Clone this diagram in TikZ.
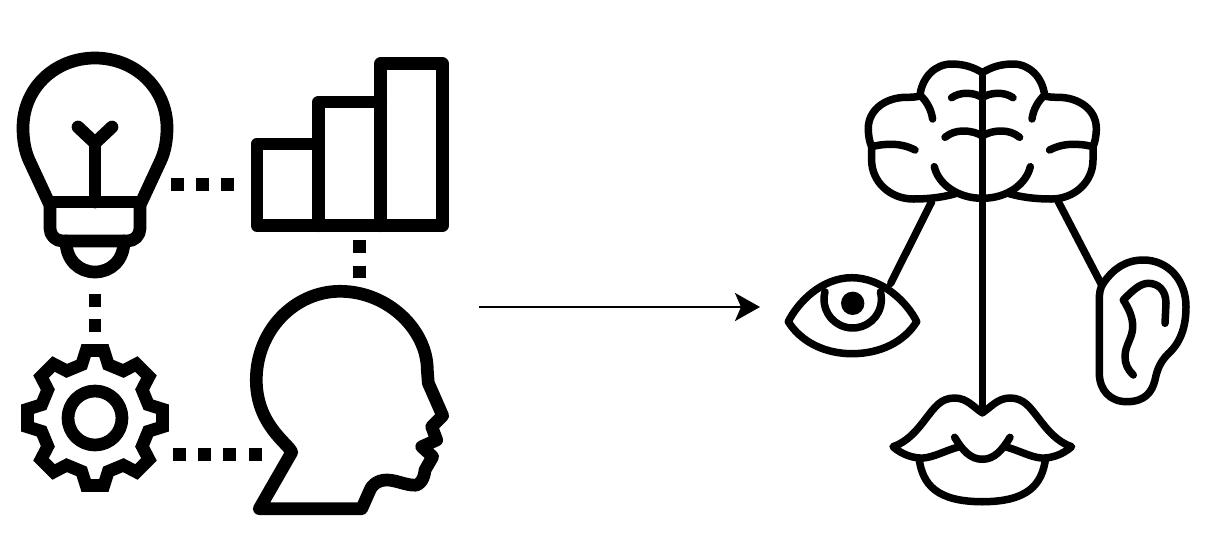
\documentclass[tikz,border=0pt]{standalone}
\usepackage{tikz}
\usetikzlibrary{arrows.meta}
\tikzset{
  >={Stealth[length=0.5cm, width=0.56cm, inset=0.12cm]},
  heavyline/.style={draw=black, line width=0.254cm, line join=round, line cap=round},
  lightline/.style={draw=black, line width=0.15cm, line join=round, line cap=round},
  dotlink/.style={draw=black, line width=0.26cm, dash pattern=on 0.26cm off 0.245cm},
  flowarrow/.style={->, draw=black, line width=0.054cm}
}

\begin{document}
\begin{tikzpicture}[x=0.02cm, y=-0.02cm]
\useasboundingbox (0,0) rectangle (1207,555);

% Link ends
\coordinate (bulbright) at (171,184);
\coordinate (chartleft) at (236,184);
\coordinate (chartbottom) at (359.3,240.3);
\coordinate (headtop) at (359.3,278);
\coordinate (bulbbottom) at (95,294);
\coordinate (geartop) at (95,333);
\coordinate (gearright) at (173,454.7);
\coordinate (headleft) at (262,454.7);
\coordinate (flowstart) at (479,307);
\coordinate (flowend) at (760,307);
\coordinate (brainleft) at (931.7,201.7);
\coordinate (eyetop) at (890.7,283.3);
\coordinate (brainright) at (1058.3,201.7);
\coordinate (eartop) at (1101.7,285);
\coordinate (braintop) at (982.3,73);
\coordinate (lipnotch) at (982.3,412.7);

% Bulb
\draw[heavyline] (49,203) -- (29,160) .. controls (25,151) and (23,140) .. (23,128)
  .. controls (23,88) and (55,58) .. (95,58)
  .. controls (135,58) and (167,88) .. (167,128)
  .. controls (167,140) and (165,151) .. (161,160) -- (141,203);
\draw[heavyline, line cap=rect] (50,202) -- (140,202);
\draw[heavyline, rounded corners=0.25cm] (50,202) -- (50,241) -- (140,241) -- (140,202);
\draw[heavyline] (66,241) .. controls (66,260) and (79,272) .. (95,272)
  .. controls (111,272) and (124,260) .. (124,241);
\draw[heavyline] (95,202) -- (95,143);
\draw[heavyline] (78,127) -- (95,143) -- (112,127);

% Chart
\draw[heavyline] (318.7,225.7) -- (318.7,144) -- (257,144) -- (257,225.7) -- (442.3,225.7)
  -- (442.3,63.7) -- (380.7,63.7) -- (380.7,225.7);
\draw[heavyline] (318.7,144) -- (318.7,102) -- (380.7,102);

% Gear
\begin{scope}[shift={(95,418)}]
\draw[heavyline, line join=miter] (-97.5:68)
  \foreach \a in {-90,-45,...,225} {
    -- ({\a-7.5}:68) -- ({\a+7.5}:68) -- ({\a+14}:55) -- ({\a+31}:55)
  } -- cycle;
\draw[heavyline] (0,0) circle[radius=27];
\end{scope}

% Head
\draw[heavyline] (259.3,508.7) -- (291.7,452.3)
  .. controls (289,444) and (256.3,425) .. (256.3,380)
  .. controls (256.3,330) and (295,291.3) .. (340,291.3)
  .. controls (388,291.3) and (427.3,330) .. (427.3,370)
  -- (428.3,383) -- (442.7,415.7) -- (431.7,426.7) -- (436.7,440) -- (421.7,446.7)
  -- (432.7,456.7) -- (425,470)
  .. controls (424,482) and (417,487) .. (411.7,485)
  .. controls (403,484) and (395,480) .. (386.7,480)
  .. controls (376,480) and (371,487) .. (370,490)
  -- (361.7,508.7) -- cycle;

% Dotted links
\draw[dotlink] (bulbright) -- (chartleft);
\draw[dotlink] (chartbottom) -- (headtop);
\draw[dotlink] (bulbbottom) -- (geartop);
\draw[dotlink] (gearright) -- (headleft);

% Main arrow
\draw[flowarrow] (flowstart) -- (flowend);

% Brain
\foreach \s in {1,-1} {
\begin{scope}[shift={(982.3,0)}, xscale=\s]
\draw[lightline] (0,72.7) .. controls (-9,67) and (-19,64) .. (-30.7,64)
  .. controls (-47,64) and (-60,77) .. (-62.3,95)
  .. controls (-55,102) and (-51,110) .. (-49.7,119);
\draw[lightline] (-62.3,96) .. controls (-66,97) and (-70,97.3) .. (-75.7,97.3)
  .. controls (-97,97.3) and (-114,110) .. (-114,128.3)
  .. controls (-114,136) and (-112.7,142) .. (-110.7,146.7)
  .. controls (-110.7,150) and (-110.7,155) .. (-110.7,160)
  .. controls (-110.7,182) and (-92,199) .. (-69,199)
  .. controls (-52,199) and (-38,197) .. (-25.7,193.3);
\draw[lightline] (-110.7,146.7) .. controls (-102,144.5) and (-96,144.3) .. (-90.7,144.3)
  .. controls (-82,144.3) and (-74,146.5) .. (-67.3,150);
\draw[lightline] (-30.7,97.7) .. controls (-26,94.5) and (-21,93.3) .. (-15.7,93.3)
  .. controls (-9,93.3) and (-4,95) .. (0,97.7);
\draw[lightline] (-37.3,137.3) .. controls (-32,133) and (-26,131) .. (-19,131)
  .. controls (-11,131) and (-5,133) .. (0,136);
\draw[lightline] (-48,166.7) .. controls (-44,184) and (-25,198.3) .. (0,198.3);
\end{scope}
}
\draw[lightline] (braintop) -- (lipnotch);
\draw[lightline] (brainleft) -- (eyetop);
\draw[lightline] (brainright) -- (eartop);

% Eye
\draw[lightline] (788.3,321.7) .. controls (798,302) and (822,277.7) .. (851.7,277.7)
  .. controls (882,277.7) and (907,302) .. (916.7,321.7)
  .. controls (904,342) and (880,353.7) .. (852,353.7)
  .. controls (825,353.7) and (801,342) .. cycle;
\draw[lightline] (852.7,299.3) ++(195:28.7) arc[start angle=195, end angle=-15, radius=28.7];
\fill[black] (852.7,303.3) circle[radius=11.7];

% Ear
\draw[lightline] (1103.3,283.3) .. controls (1100,288) and (1099.3,293) .. (1099.3,300)
  -- (1099.3,373)
  .. controls (1099.3,390) and (1110,401.7) .. (1126.7,401.7)
  .. controls (1145,401.7) and (1152,392) .. (1155,380)
  .. controls (1157,370) and (1160,362) .. (1168,354)
  .. controls (1180,343) and (1186,328) .. (1186,306.7)
  .. controls (1186,280) and (1168,260) .. (1143.3,260)
  .. controls (1125,260) and (1112,270) .. (1103.3,283.3);
\draw[lightline] (1165,323.3) -- (1166,303.3)
  .. controls (1166,290) and (1158,283.3) .. (1148.3,283.3)
  .. controls (1140,283.3) and (1132,291) .. (1123.3,300)
  .. controls (1129,309) and (1132.7,317) .. (1132.7,326.7)
  .. controls (1132.7,338) and (1125,345) .. (1125,356.7)
  .. controls (1125,364) and (1128,370) .. (1133.3,375);

% Lips
\foreach \s in {1,-1} {
\begin{scope}[shift={(982.3,0)}, xscale=\s]
\draw[lightline] (0,412.7) .. controls (-8,408) and (-15,398) .. (-27.7,398)
  .. controls (-42,398) and (-48,408) .. (-56,418)
  .. controls (-65,430) and (-75,442) .. (-89.3,446.7)
  .. controls (-80,455) and (-68,458.5) .. (-59,458)
  .. controls (-48,457) and (-38,451) .. (-24,447);
\draw[lightline] (-27.7,437.3) .. controls (-20,450) and (-12,459.3) .. (0,459.3);
\draw[lightline] (-63.3,458) .. controls (-60,485) and (-45,501.7) .. (0,501.7);
\end{scope}
}

\end{tikzpicture}
\end{document}
